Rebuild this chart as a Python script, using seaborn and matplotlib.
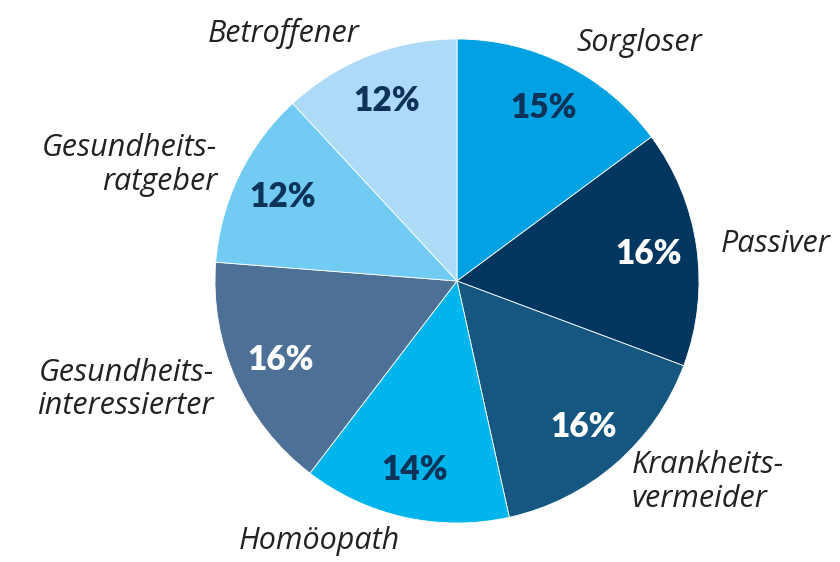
"""
Kreisdiagramm: Gesundheitstypen (Anteile in Prozent)
"""
import matplotlib
matplotlib.use("Agg")
import matplotlib.pyplot as plt
import seaborn as sns

# Daten
typen = ['Sorgloser', 'Passiver', 'Krankheits-\nvermeider', 'Homöopath',
         'Gesundheits-\ninteressierter', 'Gesundheits-\nratgeber', 'Betroffener']
anteile = [15, 16, 16, 14, 16, 12, 12]
farben = ['#00a2e3', '#00365f', '#165782', '#00b4ec', '#4d7196', '#72cbf3', '#acdaf7']
text_farben = ['#0d3358', 'white', 'white', '#0d3358', 'white', '#0d3358', '#0d3358']

sns.set_theme(style='white')
plt.rcParams['font.family'] = ['Open Sans', 'DejaVu Sans']

fig = plt.figure(figsize=(8.4, 5.62), dpi=100)
ax = fig.add_axes([0, 0, 1, 1])

mitte = (457, 281)
wedges, labels, pcts = ax.pie(
    anteile, labels=typen, colors=farben, startangle=90, counterclock=False,
    center=mitte, radius=242, labeldistance=1.1, pctdistance=0.8,
    autopct=lambda p: f'{p * sum(anteile) / 100:.0f}%',
    wedgeprops={'edgecolor': 'white', 'linewidth': 0.6},
    frame=True,
)

# Ausrichtung nach Seite (Mittelpunkt ist nicht 0)
for t in labels:
    x, y = t.get_position()
    seite = 'right' if x < mitte[0] else 'left'
    t.set_horizontalalignment(seite)
    t.set_multialignment(seite)
    t.set_fontsize(22)
    t.set_fontstyle('italic')
    t.set_color('#222222')
    t.set_linespacing(1.15)

for t, c in zip(pcts, text_farben):
    t.set_fontsize(24)
    t.set_fontweight('heavy')
    t.set_family(['Lato', 'DejaVu Sans'])
    t.set_color(c)

ax.set_xlim(0, 840)
ax.set_ylim(0, 562)
ax.set_aspect('equal')
ax.axis('off')

plt.savefig('out.png', dpi=100)
